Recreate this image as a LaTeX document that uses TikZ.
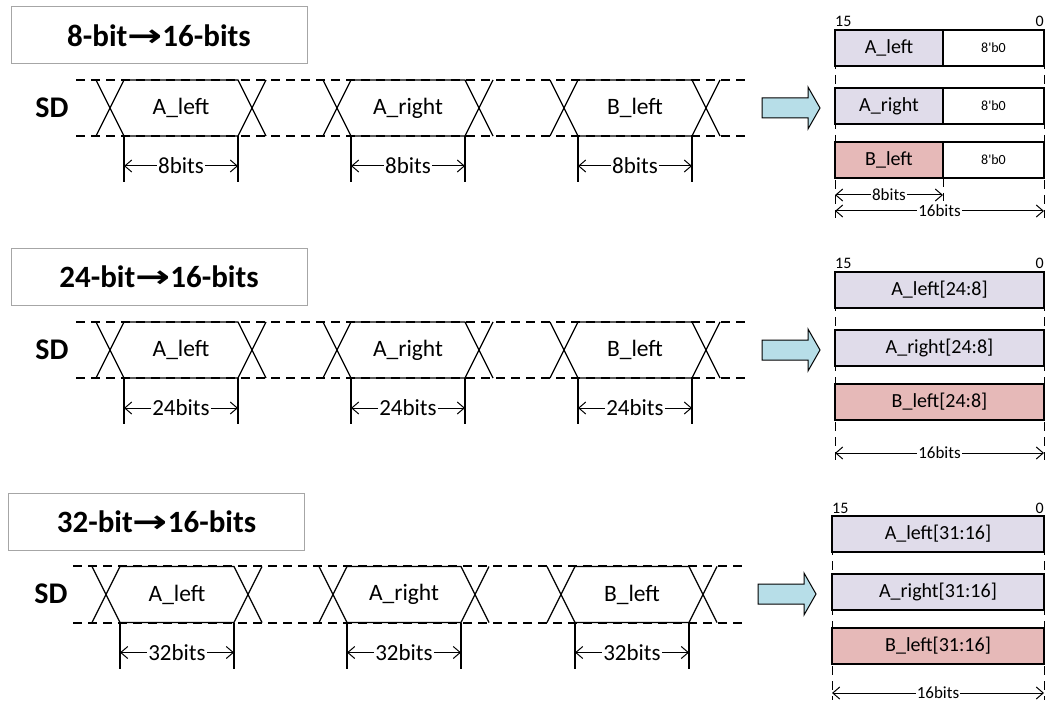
\documentclass[tikz,border=0pt]{standalone}
\usepackage{fontspec}
\setmainfont{Carlito}
\newfontfamily\symfont{DejaVu Sans}
\usepackage{tikz}
\usetikzlibrary{calc, positioning, arrows.meta}

\definecolor{lav}{RGB}{224,220,234}
\definecolor{rose}{RGB}{230,185,184}
\definecolor{aqua}{RGB}{183,222,232}
\definecolor{rim}{RGB}{166,166,166}

\tikzstyle{title}=[draw=rim, line width=1pt, fill=white, minimum width=296pt, minimum height=57pt, font=\fontsize{31}{36}\selectfont\bfseries]
\tikzstyle{sd}=[font=\fontsize{30}{34}\selectfont\bfseries]
\tikzstyle{sig}=[line width=1.3pt]
\tikzstyle{idle}=[line width=1.3pt, dash pattern=on 9pt off 6pt]
\tikzstyle{data}=[font=\fontsize{23.5}{28}\selectfont]
\tikzstyle{dim}=[line width=1pt, >={Straight Barb[length=7pt,width=12pt]}, <->]
\tikzstyle{dimtxt}=[fill=white, inner sep=1pt, font=\fontsize{23}{28}\selectfont]
\tikzstyle{word}=[draw, line width=1.2pt, minimum height=36pt, inner sep=0pt, outer sep=0pt, font=\fontsize{20}{24}\selectfont]
\tikzstyle{pad}=[word, fill=white, font=\fontsize{14}{17}\selectfont]
\tikzstyle{bitno}=[inner sep=0pt, font=\fontsize{16}{19}\selectfont]
\tikzstyle{guide}=[line width=1pt, dash pattern=on 9pt off 6pt]
\tikzstyle{rdimtxt}=[fill=white, inner sep=1pt, font=\fontsize{17}{20}\selectfont]
\tikzstyle{conv}=[draw, line width=1pt, fill=aqua]

% heavy arrow in the titles
\newcommand{\toarr}{\scalebox{1.35}[1]{\symfont →}}
% one word on the SD line: name, left x, mid y, word, width
\newcommand{\dataslot}[5]{%
  \coordinate (#1tl) at (#2+28,#3-28);
  \coordinate (#1bl) at (#2+28,#3+28);
  \coordinate (#1tr) at (#2+142,#3-28);
  \coordinate (#1br) at (#2+142,#3+28);
  \draw[sig] (#2,#3-28) -- (#1bl) -- (#1br) -- (#2+170,#3-28);
  \draw[sig] (#2,#3+28) -- (#1tl) -- (#1tr) -- (#2+170,#3+28);
  \node[data] (#1) at (#2+85,#3) {#4};
  \coordinate (#1dl) at (#2+28,#3+74);
  \coordinate (#1dr) at (#2+142,#3+74);
  \coordinate (#1al) at (#2+28,#3+58);
  \coordinate (#1ar) at (#2+142,#3+58);
  \draw[sig] (#1bl) -- (#1dl) (#1br) -- (#1dr);
  \draw[dim] (#1al) -- node[dimtxt] {#5} (#1ar);
}
% block arrow: name, tail x, mid y
\newcommand{\convarrow}[3]{%
  \coordinate (#1) at (#2,#3);
  \draw[conv] (#1) ++(0,-10) -- ++(46,0) -- ++(0,-11) -- ++(12,21)
    -- ++(-12,21) -- ++(0,-11) -- ++(-46,0) -- cycle;
}

\begin{document}
\begin{tikzpicture}[x=1pt,y=-1pt]
  \useasboundingbox (0,0) rectangle (1045,706);

  % ---- 8 bit ----
  \node[title] (t1) at (159,35.5) {8-bit\toarr16-bits};
  \node[sd] (sd1) at (52,108) {SD};
  \coordinate (i1nw) at (76,80);   \coordinate (i1ne) at (748,80);
  \coordinate (i1sw) at (76,136);  \coordinate (i1se) at (748,136);
  \draw[idle] (i1nw) -- (i1ne) (i1sw) -- (i1se);
  \dataslot{a1}{96}{108}{A\_left}{8bits}
  \dataslot{b1}{323}{108}{A\_right}{8bits}
  \dataslot{c1}{550}{108}{B\_left}{8bits}
  \convarrow{cv1}{762}{108}

  \coordinate (g1t) at (835,30);  \coordinate (g1b) at (835,218);
  \coordinate (k1t) at (1044,30); \coordinate (k1b) at (1044,218);
  \draw[guide] (g1t) -- (g1b) (k1t) -- (k1b);
  \node[word, fill=lav, anchor=north west, minimum width=108pt] (w1a) at (835,30) {A\_left};
  \node[pad, right=0pt of w1a, minimum width=101pt] (z1a) {8\textquotesingle b0};
  \node[word, fill=lav, below=22pt of w1a, minimum width=108pt] (w1b) {A\_right};
  \node[pad, right=0pt of w1b, minimum width=101pt] (z1b) {8\textquotesingle b0};
  \node[word, fill=rose, below=18pt of w1b, minimum width=108pt] (w1c) {B\_left};
  \node[pad, right=0pt of w1c, minimum width=101pt] (z1c) {8\textquotesingle b0};
  \node[bitno, anchor=base west] (h1) at (835,27) {15};
  \node[bitno, anchor=base east] (l1) at (1044,27) {0};
  \coordinate (m1b) at (943,201);
  \draw[guide] (w1c.south east) -- (m1b);
  \coordinate (e1l) at (835,195); \coordinate (e1r) at (943,195);
  \draw[dim] (e1l) -- node[rdimtxt] {8bits} (e1r);
  \coordinate (f1l) at (835,211); \coordinate (f1r) at (1044,211);
  \draw[dim] (f1l) -- node[rdimtxt] {16bits} (f1r);

  % ---- 24 bit ----
  \node[title] (t2) at (159,277) {24-bit\toarr16-bits};
  \node[sd] (sd2) at (52,350) {SD};
  \coordinate (i2nw) at (76,322);  \coordinate (i2ne) at (748,322);
  \coordinate (i2sw) at (76,378);  \coordinate (i2se) at (748,378);
  \draw[idle] (i2nw) -- (i2ne) (i2sw) -- (i2se);
  \dataslot{a2}{96}{350}{A\_left}{24bits}
  \dataslot{b2}{323}{350}{A\_right}{24bits}
  \dataslot{c2}{550}{350}{B\_left}{24bits}
  \convarrow{cv2}{762}{350}

  \coordinate (g2t) at (835,272);  \coordinate (g2b) at (835,460);
  \coordinate (k2t) at (1044,272); \coordinate (k2b) at (1044,460);
  \draw[guide] (g2t) -- (g2b) (k2t) -- (k2b);
  \node[word, fill=lav, anchor=north west, minimum width=209pt] (w2a) at (835,272) {A\_left[24:8]};
  \node[word, fill=lav, below=22pt of w2a, minimum width=209pt] (w2b) {A\_right[24:8]};
  \node[word, fill=rose, below=18pt of w2b, minimum width=209pt] (w2c) {B\_left[24:8]};
  \node[bitno, anchor=base west] (h2) at (835,269) {15};
  \node[bitno, anchor=base east] (l2) at (1044,269) {0};
  \coordinate (f2l) at (835,453); \coordinate (f2r) at (1044,453);
  \draw[dim] (f2l) -- node[rdimtxt] {16bits} (f2r);

  % ---- 32 bit ----
  \node[title] (t3) at (156.5,521.5) {32-bit\toarr16-bits};
  \node[sd] (sd3) at (51,594) {SD};
  \coordinate (i3nw) at (73,566);  \coordinate (i3ne) at (745,566);
  \coordinate (i3sw) at (73,623);  \coordinate (i3se) at (745,623);
  \draw[idle] (i3nw) -- (i3ne) (i3sw) -- (i3se);
  \dataslot{a3}{92}{594.5}{A\_left}{32bits}
  \dataslot{b3}{319}{594.5}{A\_right}{32bits}
  \dataslot{c3}{547}{594.5}{B\_left}{32bits}
  \convarrow{cv3}{758}{594}

  \coordinate (g3t) at (832,516);  \coordinate (g3b) at (832,700);
  \coordinate (k3t) at (1044,516); \coordinate (k3b) at (1044,700);
  \draw[guide] (g3t) -- (g3b) (k3t) -- (k3b);
  \node[word, fill=lav, anchor=north west, minimum width=212pt] (w3a) at (832,516) {A\_left[31:16]};
  \node[word, fill=lav, below=22pt of w3a, minimum width=212pt] (w3b) {A\_right[31:16]};
  \node[word, fill=rose, below=18pt of w3b, minimum width=212pt] (w3c) {B\_left[31:16]};
  \node[bitno, anchor=base west] (h3) at (832,513) {15};
  \node[bitno, anchor=base east] (l3) at (1044,513) {0};
  \coordinate (f3l) at (832,693); \coordinate (f3r) at (1044,693);
  \draw[dim] (f3l) -- node[rdimtxt] {16bits} (f3r);
\end{tikzpicture}
\end{document}
